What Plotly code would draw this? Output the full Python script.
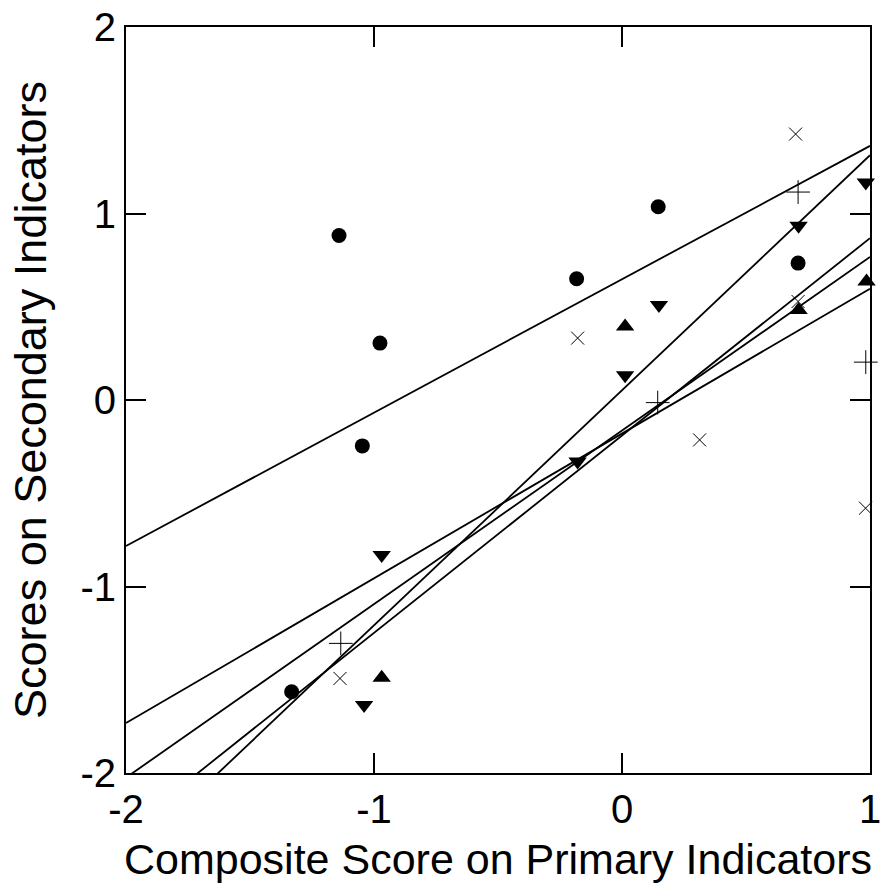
import numpy as np
import plotly.graph_objects as go

# Series data (Composite score on primary indicators, score on secondary indicators)
circle_x = [-1.141, -0.976, -1.047, -1.332, -0.183, 0.146, 0.710]
circle_y = [0.882, 0.305, -0.246, -1.564, 0.650, 1.036, 0.734]

tri_down_x = [0.712, 0.983, 0.149, 0.0125, -0.179, -0.969, -1.040]
tri_down_y = [0.934, 1.166, 0.510, 0.133, -0.330, -0.831, -1.636]

tri_up_x = [0.0125, 0.712, 0.986, -0.969]
tri_up_y = [0.394, 0.483, 0.635, -1.489]

plus_x = [0.710, 0.983, 0.144, -1.134]
plus_y = [1.115, 0.203, -0.014, -1.305]

cross_x = [0.700, -0.179, 0.313, 0.982, 0.710, -1.137]
cross_y = [1.426, 0.332, -0.214, -0.580, 0.528, -1.493]

x_range = [-2, 1]
y_range = [-2, 2]
x_ticks = [-2, -1, 0, 1]
y_ticks = [-2, -1, 0, 1, 2]

series = [
    (circle_x, circle_y, dict(symbol="circle", size=15, color="black")),
    (tri_down_x, tri_down_y, dict(symbol="triangle-down", size=16, color="black")),
    (tri_up_x, tri_up_y, dict(symbol="triangle-up", size=16, color="black")),
    (plus_x, plus_y, dict(symbol="cross-thin", size=17, color="black",
                          line=dict(width=1, color="black"))),
    (cross_x, cross_y, dict(symbol="x-thin", size=13, color="black",
                            line=dict(width=1, color="black"))),
]

fig = go.Figure()

# regression lines (least squares fit of each series), drawn across the x range
for xs, ys, _ in series:
    slope, intercept = np.polyfit(xs, ys, 1)
    lx = np.array(x_range, dtype=float)
    fig.add_trace(go.Scatter(x=lx, y=slope * lx + intercept, mode="lines",
                             line=dict(color="black", width=1.8),
                             showlegend=False, hoverinfo="skip"))

for xs, ys, mk in series:
    fig.add_trace(go.Scatter(x=xs, y=ys, mode="markers", marker=mk,
                             showlegend=False, cliponaxis=False))

font_family = "Liberation Sans, Arial, sans-serif"

fig.update_layout(
    width=882, height=892,
    margin=dict(l=126, r=12, t=27, b=119),
    paper_bgcolor="white", plot_bgcolor="white",
    font=dict(family=font_family, color="black"),
    xaxis=dict(
        range=x_range, tickvals=x_ticks, ticktext=[str(v) for v in x_ticks],
        showline=True, linecolor="black", linewidth=2, mirror="ticks",
        ticks="inside", ticklen=20, tickwidth=2, tickcolor="black",
        showgrid=False, zeroline=False, automargin=False,
        tickfont=dict(size=40),
        title=dict(text="Composite Score on Primary Indicators",
                   font=dict(size=43), standoff=14),
    ),
    yaxis=dict(
        range=y_range, tickvals=y_ticks, ticktext=[str(v) for v in y_ticks],
        showline=True, linecolor="black", linewidth=2, mirror="ticks",
        ticks="inside", ticklen=20, tickwidth=2, tickcolor="black",
        showgrid=False, zeroline=False, automargin=False,
        tickfont=dict(size=40),
        title=dict(text="Scores on Secondary Indicators",
                   font=dict(size=45), standoff=20),
    ),
)

fig.write_html("out.html", config={"displayModeBar": False},
               post_script="document.body.style.margin='0';document.body.style.padding='0';")
